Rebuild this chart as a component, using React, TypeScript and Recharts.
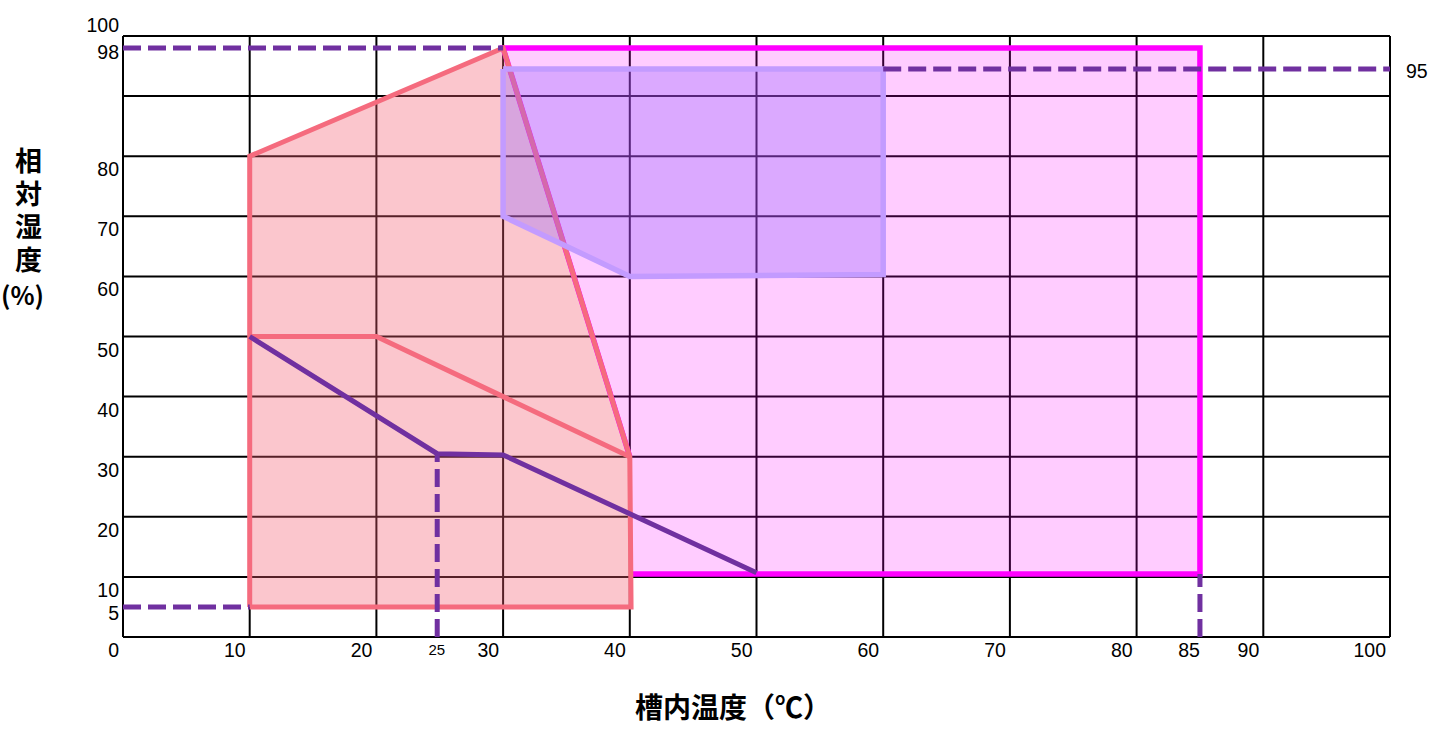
import React from 'react';
import { ComposedChart, Area, Line, XAxis, YAxis, CartesianGrid } from 'recharts';

// ---- tick labels ----
const xTicks = [0, 10, 20, 25, 30, 40, 50, 60, 70, 80, 85, 90, 100];
const yTicks = [5, 10, 20, 30, 40, 50, 60, 70, 80, 98, 100];
const rightTicks = [94.5];
const rightTickText = '95';
const gridValues = [0, 10, 20, 30, 40, 50, 60, 70, 80, 90, 100];

// ---- filled regions (range areas: [low, high]) ----
const magentaFill = [
  { x: 30, r: [98, 98] },
  { x: 40, r: [30, 98] },
  { x: 40, r: [10.5, 98] },
  { x: 85, r: [10.5, 98] },
];
const salmonFill = [
  { x: 10, r: [5, 80] },
  { x: 30, r: [5, 98] },
  { x: 40, r: [5, 30] },
];
const lavenderFill = [
  { x: 30, r: [70, 94.5] },
  { x: 40, r: [60, 94.5] },
  { x: 60, r: [60.3, 94.5] },
];

// ---- outlines ----
const magentaEdge = [
  { x: 40, y: 10.5 },
  { x: 85, y: 10.5 },
  { x: 85, y: 98 },
  { x: 30, y: 98 },
  { x: 40, y: 30 },
];
const salmonEdge = [
  { x: 10, y: 5 },
  { x: 10, y: 80 },
  { x: 30, y: 98 },
  { x: 40, y: 30 },
  { x: 40.1, y: 5 },
  { x: 10, y: 5 },
];
const salmonInner = [
  { x: 10, y: 50 },
  { x: 20, y: 50 },
  { x: 40, y: 30 },
];
const lavenderEdge = [
  { x: 30, y: 94.5 },
  { x: 60, y: 94.5 },
  { x: 60, y: 60.3 },
  { x: 40, y: 60 },
  { x: 30, y: 70 },
  { x: 30, y: 94.5 },
];
const purpleLine = [
  { x: 10, y: 50 },
  { x: 24.8, y: 30.5 },
  { x: 30, y: 30.3 },
  { x: 50, y: 10.7 },
];

// ---- dashed guide lines ----
const dash98 = [{ x: 0, y: 98 }, { x: 30, y: 98 }];
const dash95 = [{ x: 60, y: 94.5 }, { x: 100, y: 94.5 }];
const dash5 = [{ x: 0, y: 5 }, { x: 10, y: 5 }];
const dash25 = [{ x: 24.8, y: 0 }, { x: 24.8, y: 30.5 }];
const dash85 = [{ x: 85, y: 0 }, { x: 85, y: 10.5 }];

const NUM_FONT = "'Liberation Sans', Arial, sans-serif";
const CJK_FONT = "'Noto Sans CJK JP', 'Noto Sans CJK SC', sans-serif";
const PURPLE = '#7030A0';

const XTick = (props: any) => {
  const { x, y, payload } = props;
  const v = payload.value;
  if (v === 25) {
    return (
      <text x={x - 3} y={y + 18} textAnchor="middle" fontSize={15} fontFamily={NUM_FONT} fill="#000">
        {v}
      </text>
    );
  }
  const dx = v === 85 ? 0 : -4;
  return (
    <text x={x + dx} y={y + 20} textAnchor="end" fontSize={19.5} fontFamily={NUM_FONT} fill="#000">
      {v}
    </text>
  );
};

const YTick = (props: any) => {
  const { x, y, payload } = props;
  const v = payload.value;
  let dy = 20;
  if (v === 100) dy = -4;
  else if (v === 98) dy = 11;
  else if (v === 5) dy = 13;
  return (
    <text x={x - 4} y={y + dy} textAnchor="end" fontSize={19.5} fontFamily={NUM_FONT} fill="#000">
      {v}
    </text>
  );
};

const RightTick = (props: any) => {
  const { x, y } = props;
  return (
    <text x={x + 16} y={y + 8.5} textAnchor="start" fontSize={19.5} fontFamily={NUM_FONT} fill="#000">
      {rightTickText}
    </text>
  );
};

const yTitleMain = '相対湿度';
const yTitleUnit = '(%)';

const YTitle = () => (
  <g>
    <text
      x={28.5}
      y={147}
      fontSize={27}
      fontWeight={700}
      fontFamily={CJK_FONT}
      fill="#000"
      style={{ writingMode: 'vertical-rl', letterSpacing: '6px' } as any}
    >
      {yTitleMain}
    </text>
    <text x={22.5} y={305} fontSize={25} fontWeight={700} fontFamily={CJK_FONT} fill="#000" textAnchor="middle">
      {yTitleUnit}
    </text>
  </g>
);

const XTitle = () => (
  <text x={635} y={718} textAnchor="start" fontSize={28} fontWeight={700} fontFamily={CJK_FONT} fill="#000">
    槽内温度（℃）
  </text>
);

export default function App() {
  return (
    <div style={{ position: 'absolute', left: 0, top: 0, width: 1436, height: 730, background: '#fff' }}>
      <ComposedChart width={1436} height={730} margin={{ top: 36, right: 6, bottom: 63, left: 63 }}>
        <CartesianGrid
          stroke="#000"
          strokeWidth={2}
          verticalValues={gridValues}
          horizontalValues={gridValues}
          fill="none"
        />
        <XAxis
          dataKey="x"
          type="number"
          domain={[0, 100]}
          ticks={xTicks}
          interval={0}
          allowDataOverflow
          axisLine={false}
          tickLine={false}
          tickSize={0}
          tickMargin={0}
          height={30}
          tick={<XTick />}
          label={{ content: () => <XTitle /> }}
        />
        <YAxis
          type="number"
          domain={[0, 100]}
          ticks={yTicks}
          interval={0}
          allowDataOverflow
          axisLine={false}
          tickLine={false}
          tickSize={0}
          tickMargin={0}
          width={60}
          tick={<YTick />}
          label={{ content: () => <YTitle /> }}
        />
        <YAxis
          yAxisId="right"
          orientation="right"
          type="number"
          domain={[0, 100]}
          ticks={rightTicks}
          interval={0}
          allowDataOverflow
          axisLine={false}
          tickLine={false}
          tickSize={0}
          tickMargin={0}
          width={40}
          tick={<RightTick />}
        />

        <Area
          data={magentaFill}
          dataKey="r"
          type="linear"
          stroke="none"
          fill="#FF00FF"
          fillOpacity={0.2}
          isAnimationActive={false}
          dot={false}
          activeDot={false}
        />
        <Area
          data={salmonFill}
          dataKey="r"
          type="linear"
          stroke="none"
          fill="#F45C70"
          fillOpacity={0.35}
          isAnimationActive={false}
          dot={false}
          activeDot={false}
        />

        <Line
          data={magentaEdge}
          dataKey="y"
          type="linear"
          stroke="#FF00FF"
          strokeWidth={5.5}
          dot={false}
          activeDot={false}
          isAnimationActive={false}
        />
        <Line
          data={salmonEdge}
          dataKey="y"
          type="linear"
          stroke="#F56B7E"
          strokeWidth={5}
          dot={false}
          activeDot={false}
          isAnimationActive={false}
        />
        <Line
          data={salmonInner}
          dataKey="y"
          type="linear"
          stroke="#F56B7E"
          strokeWidth={5}
          dot={false}
          activeDot={false}
          isAnimationActive={false}
        />

        <Area
          data={lavenderFill}
          dataKey="r"
          type="linear"
          stroke="none"
          fill="#9966FF"
          fillOpacity={0.35}
          isAnimationActive={false}
          dot={false}
          activeDot={false}
          zIndex={450}
        />
        <Line
          data={lavenderEdge}
          dataKey="y"
          type="linear"
          stroke="#C39BFF"
          strokeWidth={5.5}
          dot={false}
          activeDot={false}
          isAnimationActive={false}
          zIndex={460}
        />

        <Line
          data={purpleLine}
          dataKey="y"
          type="linear"
          stroke={PURPLE}
          strokeWidth={5}
          dot={false}
          activeDot={false}
          isAnimationActive={false}
          zIndex={500}
        />
        {[dash98, dash95, dash5, dash25, dash85].map((d, i) => (
          <Line
            key={i}
            data={d}
            dataKey="y"
            type="linear"
            stroke={PURPLE}
            strokeWidth={5}
            strokeDasharray="18 7"
            dot={false}
            activeDot={false}
            isAnimationActive={false}
            zIndex={500}
          />
        ))}
      </ComposedChart>
    </div>
  );
}
